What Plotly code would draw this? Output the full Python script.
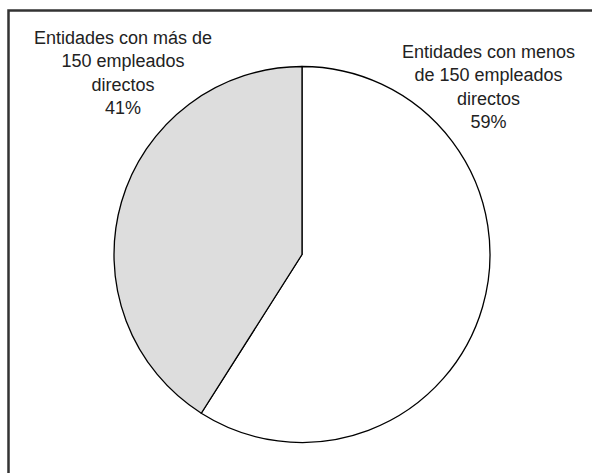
import plotly.graph_objects as go

W, H = 592, 473

labels = ["Entidades con menos de 150 empleados directos",
          "Entidades con más de 150 empleados directos"]
values = [59, 41]
colors = ["#ffffff", "#dddddd"]
label_texts = ["Entidades con menos<br>de 150 empleados<br>directos<br>59%",
               "Entidades con más de<br>150 empleados<br>directos<br>41%"]

cx, cy, r = 302, 254.5, 188

fig = go.Figure(go.Pie(
    labels=labels, values=values, sort=False, direction="clockwise", rotation=0,
    marker=dict(colors=colors, line=dict(color="#000000", width=1.3)),
    textinfo="none", hoverinfo="label+percent", showlegend=False,
    domain=dict(x=[(cx - r) / W, (cx + r) / W],
                y=[(H - cy - r) / H, (H - cy + r) / H]),
))

fnt = dict(family="Liberation Sans, Arial", size=18, color="#222222")
fig.add_annotation(x=488 / W, y=1 - 87 / H, xref="paper", yref="paper",
                   xanchor="center", yanchor="middle",
                   text=label_texts[0], showarrow=False, align="center", font=fnt)
fig.add_annotation(x=122.5 / W, y=1 - 73 / H, xref="paper", yref="paper",
                   xanchor="center", yanchor="middle",
                   text=label_texts[1], showarrow=False, align="center", font=fnt)

fig.add_shape(type="rect", xref="paper", yref="paper",
              x0=8.5 / W, x1=1.05, y0=-0.05, y1=1 - 10.5 / H,
              line=dict(color="#333333", width=2.5), fillcolor="rgba(0,0,0,0)")

fig.update_layout(width=W, height=H, margin=dict(l=0, r=0, t=0, b=0),
                  paper_bgcolor="#ffffff", plot_bgcolor="#ffffff")

fig.write_html("out.html", config={"displayModeBar": False},
               post_script="document.body.style.margin='0';document.body.style.overflow='hidden';")
